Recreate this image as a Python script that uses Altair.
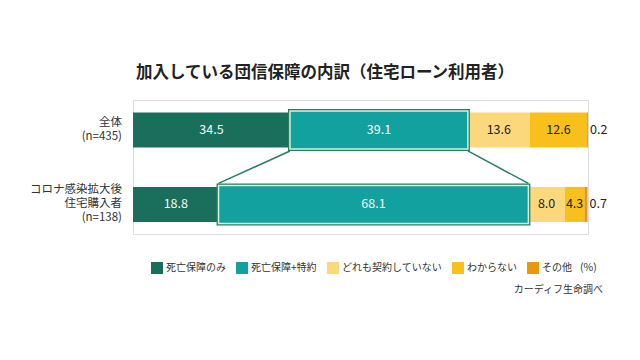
import altair as alt
import pandas as pd

title_text = ["加入している団信保障の内訳（住宅ローン利用者）"]
group_labels = ["全体\n(n=435)", "コロナ感染拡大後\n住宅購入者\n(n=138)"]
series = ["死亡保障のみ", "死亡保障+特約", "どれも契約していない", "わからない", "その他"]
colors = ["#1a6e5c", "#13a1a0", "#fcd87c", "#f8c01c", "#e6980f"]
values_all = [34.5, 39.1, 13.6, 12.6, 0.2]
values_covid = [18.8, 68.1, 8.0, 4.3, 0.7]
highlight_series = "死亡保障+特約"
unit_text = ["(%)"]
source_text = ["カーディフ生命調べ"]

FONT = "Noto Sans CJK JP"
LINE_H = 14

rows = []
for gi, (g, vals) in enumerate(zip(group_labels, [values_all, values_covid])):
    start = 0.0
    for si, (s, v) in enumerate(zip(series, vals)):
        rows.append({
            "group": g, "row": gi, "series": s, "order": si, "value": v,
            "x0": start, "x1": start + v, "mid": start + v / 2,
            "label": f"{v:.1f}",
            "tc": "#f4fbf8" if si < 2 else "#222222",
        })
        start += v
df = pd.DataFrame(rows)
inside = df[df["value"] >= 1]
outside = df[df["value"] < 1]
hl = df[df["series"] == highlight_series]

conn = pd.DataFrame({
    "xa": [hl.iloc[0]["x0"], hl.iloc[0]["x1"]],
    "xb": [hl.iloc[1]["x0"], hl.iloc[1]["x1"]],
    "ya": [hl.iloc[0]["row"]] * 2,
    "yb": [hl.iloc[1]["row"]] * 2,
})

groups_df = pd.DataFrame({"group": group_labels, "row": list(range(len(group_labels)))})

xscale = alt.Scale(domain=[0, 100], nice=False, zero=True)
yscale = alt.Scale(domain=[-0.335, 1.33], reverse=True, nice=False, zero=False)

bars = alt.Chart(df).mark_bar(height=35).encode(
    x=alt.X("x0:Q", scale=xscale, axis=None),
    x2="x1:Q",
    y=alt.Y("row:Q", scale=yscale,
            axis=alt.Axis(labels=False, ticks=False, grid=False, title=None,
                          domainColor="#b0b0b0", domainWidth=1)),
    color=alt.Color("series:N", scale=alt.Scale(domain=series, range=colors),
                    sort=series,
                    legend=alt.Legend(orient="none", legendX=18, legendY=162,
                                      direction="horizontal", title=None,
                                      symbolType="square", symbolSize=144,
                                      symbolStrokeWidth=0, symbolOpacity=1,
                                      labelFontSize=10, labelOffset=3,
                                      columnPadding=10, padding=0,
                                      labelColor="#333333", labelFont=FONT)),
)

box_outer = alt.Chart(hl).mark_bar(height=38, fill="#13a1a0", stroke="#2b7d62",
                                   strokeWidth=4).encode(
    x=alt.X("x0:Q", scale=xscale, axis=None), x2="x1:Q",
    y=alt.Y("row:Q", scale=yscale, axis=None),
)
box_inner = alt.Chart(hl).mark_bar(height=38, fill="#13a1a0", stroke="#d2f3da",
                                   strokeWidth=1.5).encode(
    x=alt.X("x0:Q", scale=xscale, axis=None), x2="x1:Q",
    y=alt.Y("row:Q", scale=yscale, axis=None),
)

connectors = alt.Chart(conn).mark_rule(color="#2b7d62", strokeWidth=1.5,
                                        yOffset=21, y2Offset=-21).encode(
    x=alt.X("xa:Q", scale=xscale, axis=None), x2="xb:Q",
    y=alt.Y("ya:Q", scale=yscale, axis=None), y2="yb:Q",
)

labels_in = alt.Chart(inside).mark_text(fontSize=12.5, font=FONT, baseline="middle",
                                        align="center").encode(
    x=alt.X("mid:Q", scale=xscale, axis=None),
    y=alt.Y("row:Q", scale=yscale, axis=None),
    text="label:N",
    fill=alt.Fill("tc:N", scale=None),
)
labels_out = alt.Chart(outside).mark_text(fontSize=12.5, font=FONT, baseline="middle",
                                          align="left", dx=2, color="#222222").encode(
    x=alt.X("x1:Q", scale=xscale, axis=None),
    y=alt.Y("row:Q", scale=yscale, axis=None),
    text="label:N",
)

# one text layer per group so the multi-line block is centred on its bar
group_layers = []
for gi, g in enumerate(group_labels):
    n_lines = g.count("\n") + 1
    group_layers.append(
        alt.Chart(groups_df).transform_filter(alt.datum.row == gi).mark_text(
            fontSize=11.5, font=FONT, align="right", baseline="middle",
            lineBreak="\n", lineHeight=LINE_H, color="#333333",
            dy=-(n_lines - 1) * LINE_H / 2,
        ).encode(
            x=alt.value(-11),
            y=alt.Y("row:Q", scale=yscale, axis=None),
            text="group:N",
        )
    )

title = alt.Chart(pd.DataFrame({"t": title_text})).mark_text(
    fontSize=16.5, font=FONT, fontWeight="bold", align="center", baseline="middle",
    color="#222222").encode(x=alt.value(192), y=alt.value(-27), text="t:N")

unit = alt.Chart(pd.DataFrame({"t": unit_text})).mark_text(
    fontSize=10.5, font=FONT, align="left", baseline="middle", color="#333333"
).encode(x=alt.value(447), y=alt.value(168), text="t:N")

source = alt.Chart(pd.DataFrame({"t": source_text})).mark_text(
    fontSize=10, font=FONT, align="right", baseline="middle", color="#333333"
).encode(x=alt.value(470), y=alt.value(190), text="t:N")

chart = alt.layer(
    bars, connectors, box_outer, box_inner, labels_in, labels_out,
    *group_layers, title, unit, source
).properties(
    width=455, height=134,
    autosize=alt.AutoSizeParams(type="none"),
    padding={"left": 125, "top": 92, "right": 44, "bottom": 110},
).configure_view(stroke=None).configure(font=FONT)

chart.save("out.html", embed_options={"renderer": "svg", "actions": False})
